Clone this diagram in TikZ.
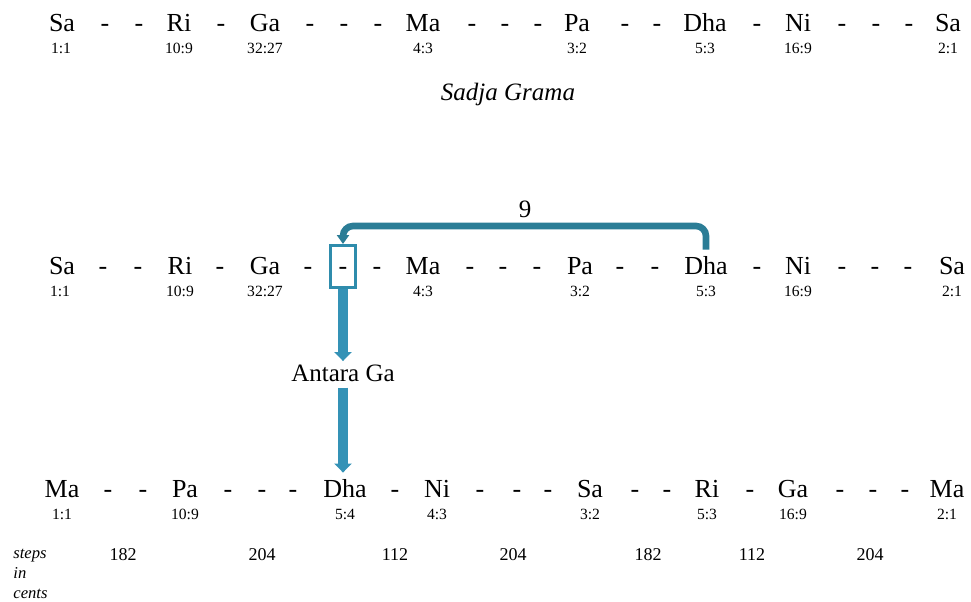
\documentclass[tikz,border=0pt]{standalone}
\usepackage{fontspec}
\setmainfont{Liberation Serif}
\usetikzlibrary{arrows.meta}
\definecolor{brkc}{RGB}{43,125,150}
\definecolor{boxc}{RGB}{47,140,172}
\definecolor{arrc}{RGB}{52,146,182}
\begin{document}
\begin{tikzpicture}[x=0.5pt,y=-0.5pt,
  note/.style={anchor=base,inner sep=0pt,font=\fontsize{13pt}{15pt}\selectfont},
  ratio/.style={anchor=base,inner sep=0pt,font=\fontsize{7.8pt}{9pt}\selectfont},
  cents/.style={anchor=base,inner sep=0pt,font=\fontsize{9pt}{11pt}\selectfont},
  lab/.style={anchor=base,inner sep=0pt,font=\fontsize{12.5pt}{14pt}\selectfont},
  side/.style={anchor=base west,inner sep=0pt,font=\fontsize{8.3pt}{10pt}\selectfont\itshape},
  arr/.style={arrc,line width=5pt,-{Triangle[width=8.5pt,length=4.5pt]}},
  brk/.style={brkc,line width=3.3pt,rounded corners=5pt,-{Triangle[width=6pt,length=4.5pt]}}]
\useasboundingbox (0,0) rectangle (971,601);
% top row
\foreach \x/\t/\n in {62/Sa/a1,105/-/a2,139/-/a3,179/Ri/a4,221/-/a5,265/Ga/a6,310/-/a7,344/-/a8,378/-/a9,423/Ma/a10,472/-/a11,505/-/a12,538/-/a13,577/Pa/a14,625/-/a15,657/-/a16,705/Dha/a17,757/-/a18,798/Ni/a19,842/-/a20,876/-/a21,909/-/a22,948/Sa/a23}
  \node[note] (\n) at (\x,31) {\t};
\foreach \x/\t/\n in {61/1:1/ar1,179/10:9/ar2,265/32:27/ar3,423/4:3/ar4,577/3:2/ar5,705/5:3/ar6,798/16:9/ar7,948/2:1/ar8}
  \node[ratio] (\n) at (\x,53) {\t};
\node[lab,font=\fontsize{12.5pt}{14pt}\selectfont\itshape] (title) at (508,100) {Sadja Grama};
% middle row
\foreach \x/\t/\n in {62/Sa/b1,103/-/b2,138/-/b3,180/Ri/b4,220/-/b5,265/Ga/b6,308/-/b7,343/-/b8,377/-/b9,423/Ma/b10,470/-/b11,503/-/b12,537/-/b13,580/Pa/b14,620/-/b15,655/-/b16,706/Dha/b17,757/-/b18,798/Ni/b19,842/-/b20,875/-/b21,908/-/b22,952/Sa/b23}
  \node[note] (\n) at (\x,274) {\t};
\foreach \x/\t/\n in {60/1:1/br1,180/10:9/br2,265/32:27/br3,423/4:3/br4,580/3:2/br5,706/5:3/br6,798/16:9/br7,952/2:1/br8}
  \node[ratio] (\n) at (\x,296) {\t};
\node[draw=boxc,line width=1.5pt,minimum width=12.5pt,minimum height=21pt,inner sep=0pt] (box) at (343,266.5) {};
\coordinate (brtop) at (525,226);
\draw[brk,shorten <=3pt] (b17.north) |- (brtop) -| (box.north);
\node[lab] (nine) at (525,217) {9};
\node[lab,inner ysep=1.5pt] (antara) at (343,381) {Antara Ga};
\draw[arr] (box.south) -- (antara.north);
% bottom row
\foreach \x/\t/\n in {62/Ma/c1,108/-/c2,143/-/c3,185/Pa/c4,228/-/c5,262/-/c6,293/-/c7,345/Dha/c8,395/-/c9,437/Ni/c10,480/-/c11,517/-/c12,548/-/c13,590/Sa/c14,635/-/c15,667/-/c16,707/Ri/c17,750/-/c18,793/Ga/c19,840/-/c20,873/-/c21,905/-/c22,947/Ma/c23}
  \node[note] (\n) at (\x,497) {\t};
\foreach \x/\t/\n in {62/1:1/cr1,185/10:9/cr2,345/5:4/cr3,437/4:3/cr4,590/3:2/cr5,707/5:3/cr6,793/16:9/cr7,947/2:1/cr8}
  \node[ratio] (\n) at (\x,519) {\t};
\draw[arr,shorten <=1.5pt,shorten >=3pt] (antara.south) -- (antara.south |- c8.north);
% steps in cents
\foreach \x/\t/\n in {123/182/s1,262/204/s2,395/112/s3,513/204/s4,648/182/s5,752/112/s6,870/204/s7}
  \node[cents] (\n) at (\x,560) {\t};
\node[side] (st1) at (13,558) {steps};
\node[side] (st2) at (13,578) {in};
\node[side] (st3) at (13,598) {cents};
\end{tikzpicture}
\end{document}
